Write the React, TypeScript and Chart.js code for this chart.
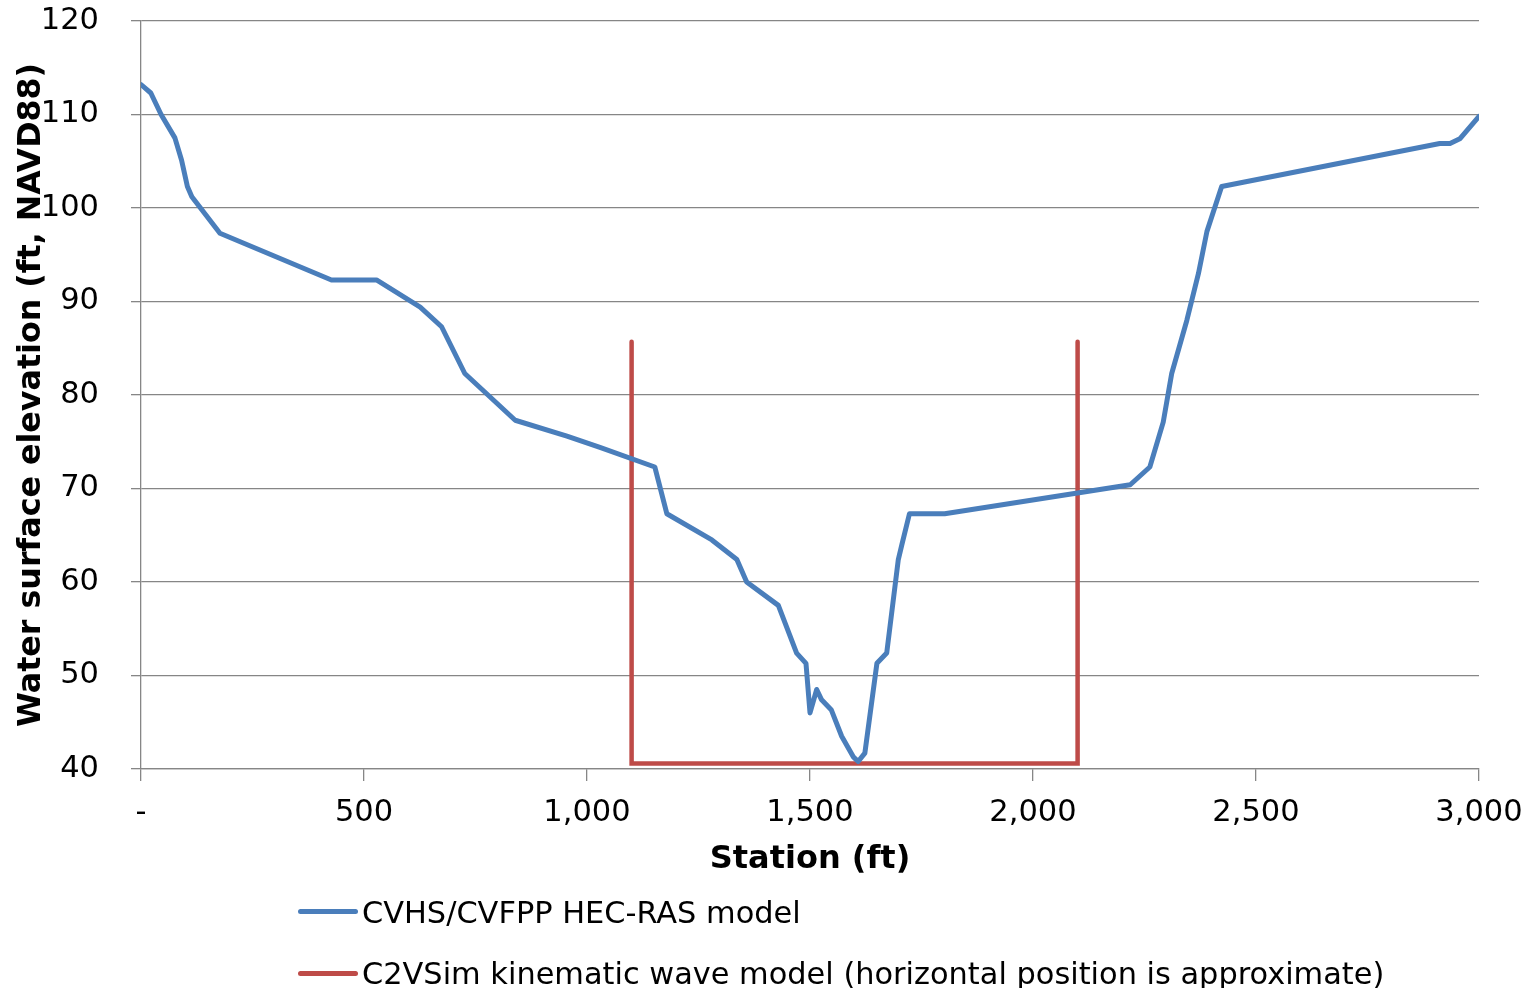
import React, { useEffect, useRef } from "react";
import { Chart, registerables } from "chart.js";

Chart.register(...registerables);

const seriesNames = [
  "CVHS/CVFPP HEC-RAS model",
  "C2VSim kinematic wave model (horizontal position is approximate)",
];
const seriesColors = ["#4A7EBB", "#BE4B48"];

const hecStation = [
  0, 22, 45, 76, 91, 104, 114, 177, 427, 528, 626, 674, 726, 839, 955, 1029,
  1152, 1179, 1280, 1336, 1358, 1429, 1470, 1491, 1500, 1515, 1526, 1548, 1571,
  1597, 1608, 1623, 1650, 1672, 1698, 1706, 1723, 1802, 2218, 2262, 2292, 2311,
  2345, 2371, 2390, 2423, 2912, 2935, 2957, 3000,
];
const hecElevation = [
  113.2, 112.3, 110.0, 107.5, 105.1, 102.3, 101.2, 97.3, 92.3, 92.3, 89.4, 87.3,
  82.3, 77.3, 75.6, 74.4, 72.3, 67.3, 64.5, 62.4, 60.0, 57.5, 52.4, 51.3, 46.0,
  48.5, 47.4, 46.3, 43.5, 41.3, 40.8, 41.7, 51.3, 52.4, 62.4, 64.0, 67.3, 67.3,
  70.4, 72.3, 77.1, 82.3, 88.0, 93.0, 97.5, 102.3, 106.9, 106.9, 107.4, 109.8,
];

const c2vStation = [1100, 1100, 2100, 2100];
const c2vElevation = [85.7, 40.6, 40.6, 85.7];

const xMin = 0;
const xMax = 3000;
const xStep = 500;
const yMin = 40;
const yMax = 120;
const yStep = 10;

const xTitle = "Station (ft)";
const yTitle = "Water surface elevation (ft, NAVD88)";

const FONT = 'Verdana, "DejaVu Sans", sans-serif';

function toPoints(xs: number[], ys: number[]) {
  return xs.map((x, i) => ({ x, y: ys[i] }));
}

export default function App() {
  const canvasRef = useRef<HTMLCanvasElement | null>(null);

  useEffect(() => {
    if (!canvasRef.current) return;
    const chart = new Chart(canvasRef.current, {
      type: "line",
      data: {
        datasets: [
          {
            label: seriesNames[0],
            data: toPoints(hecStation, hecElevation),
            borderColor: seriesColors[0],
            backgroundColor: seriesColors[0],
            borderWidth: 5,
            pointRadius: 0,
            tension: 0,
            borderJoinStyle: "round",
            borderCapStyle: "round",
          },
          {
            label: seriesNames[1],
            data: toPoints(c2vStation, c2vElevation),
            borderColor: seriesColors[1],
            backgroundColor: seriesColors[1],
            borderWidth: 4.5,
            pointRadius: 0,
            tension: 0,
            borderJoinStyle: "miter",
            borderCapStyle: "round",
          },
        ],
      },
      options: {
        animation: false,
        responsive: true,
        maintainAspectRatio: false,
        layout: { padding: { top: 21, right: 55, left: 0, bottom: 109.4 } },
        plugins: {
          legend: { display: false },
          tooltip: { enabled: false },
        },
        scales: {
          x: {
            type: "linear",
            min: xMin,
            max: xMax,
            afterFit: (scale: any) => {
              scale.height = 109.6;
              scale.paddingLeft = 10;
              scale.paddingRight = 44;
            },
            ticks: {
              stepSize: xStep,
              color: "#000",
              font: { family: FONT, size: 30.5 },
              padding: 14,
              maxRotation: 0,
              callback: (v: any) =>
                Number(v) === 0 ? "-" : Number(v).toLocaleString("en-US"),
            },
            grid: {
              drawOnChartArea: false,
              drawTicks: true,
              tickLength: 12,
              color: "#868686",
              lineWidth: 1.3,
            },
            border: { color: "#868686", width: 1.3 },
            title: {
              display: true,
              text: xTitle,
              color: "#000",
              font: { family: FONT, size: 32, weight: "bold" },
              padding: { top: 0, bottom: 0 },
            },
          },
          y: {
            type: "linear",
            min: yMin,
            max: yMax,
            afterFit: (scale: any) => {
              scale.width = 141;
              scale.paddingTop = 18;
              scale.paddingBottom = 18;
            },
            ticks: {
              stepSize: yStep,
              color: "#000",
              font: { family: FONT, size: 30.5 },
              padding: 32,
            },
            grid: {
              color: "#868686",
              lineWidth: 1.3,
              tickLength: 10,
            },
            border: { color: "#868686", width: 1.3 },
            title: {
              display: true,
              text: yTitle,
              color: "#000",
              font: { family: FONT, size: 31.7, weight: "bold" },
              padding: { top: 12.8, bottom: 0 },
            },
          },
        },
      },
    });
    return () => chart.destroy();
  }, []);

  const legendRows = [
    { top: 895, lineTop: 909 },
    { top: 955.7, lineTop: 971 },
  ];

  return (
    <div
      style={{
        position: "absolute",
        left: 0,
        top: 0,
        width: 1534,
        height: 988,
        overflow: "hidden",
        background: "#fff",
      }}
    >
      <canvas ref={canvasRef} />
      {seriesNames.map((name, i) => (
        <React.Fragment key={name}>
          <div
            style={{
              position: "absolute",
              left: 298,
              top: legendRows[i].lineTop,
              width: 60,
              height: 5,
              borderRadius: 3,
              background: seriesColors[i],
            }}
          />
          <div
            style={{
              position: "absolute",
              left: 362,
              top: legendRows[i].top,
              fontFamily: FONT,
              fontSize: 30.4,
              lineHeight: "36px",
              color: "#000",
              whiteSpace: "nowrap",
            }}
          >
            {name}
          </div>
        </React.Fragment>
      ))}
    </div>
  );
}
